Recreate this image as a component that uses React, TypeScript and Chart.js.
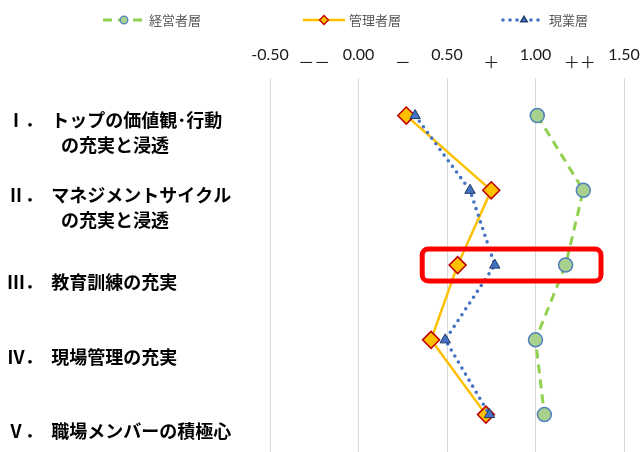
import React, { useEffect, useRef } from 'react';
import { Chart, registerables } from 'chart.js';

Chart.register(...registerables);

// ---- data ----
const categories: string[][] = [
  ['Ⅰ．  トップの価値観･行動', '　　　の充実と浸透'],
  ['Ⅱ．  マネジメントサイクル', '　　　の充実と浸透'],
  ['Ⅲ．  教育訓練の充実'],
  ['Ⅳ．  現場管理の充実'],
  ['Ⅴ．  職場メンバーの積極心'],
];
const seriesNames = ['経営者層', '管理者層', '現業層'];
const executives = [1.01, 1.27, 1.17, 1.0, 1.05];
const managers = [0.27, 0.75, 0.56, 0.41, 0.72];
const workers = [0.32, 0.63, 0.77, 0.49, 0.74];
const xMin = -0.5;
const xMax = 1.5;
const xStep = 0.5;
const symbolTicks = [-0.25, 0.25, 0.75, 1.25];
const symbolLabels = ['－－', '－', '＋', '＋＋'];
const highlightCategory = 2;
const highlightRange = [0.36, 1.37];

const CJK = '"Noto Sans CJK JP", "Noto Sans", sans-serif';

function drawMarker(
  ctx: CanvasRenderingContext2D,
  style: string,
  x: number,
  y: number,
  r: number,
  fill: string,
  stroke: string,
  lw: number
) {
  ctx.save();
  ctx.setLineDash([]);
  ctx.beginPath();
  if (style === 'circle') {
    ctx.arc(x, y, r, 0, Math.PI * 2);
  } else if (style === 'rectRot') {
    ctx.moveTo(x - r, y);
    ctx.lineTo(x, y - r);
    ctx.lineTo(x + r, y);
    ctx.lineTo(x, y + r);
    ctx.closePath();
  } else {
    const h = r * 1.5;
    ctx.moveTo(x, y - r);
    ctx.lineTo(x + r * 0.9, y + h - r);
    ctx.lineTo(x - r * 0.9, y + h - r);
    ctx.closePath();
  }
  ctx.fillStyle = fill;
  ctx.fill();
  ctx.lineWidth = lw;
  ctx.strokeStyle = stroke;
  ctx.stroke();
  ctx.restore();
}

const customLegend = {
  id: 'customLegend',
  afterDraw(chart: any) {
    const ctx: CanvasRenderingContext2D = chart.ctx;
    const y = 20;
    const startX = 103;
    const step = 200;
    const lineLen = 42;
    chart.data.datasets.forEach((ds: any, i: number) => {
      const x0 = startX + i * step;
      ctx.save();
      ctx.beginPath();
      ctx.strokeStyle = ds.borderColor;
      ctx.lineWidth = ds.borderWidth;
      ctx.lineCap = ds.borderCapStyle || 'butt';
      ctx.setLineDash(ds.borderDash || []);
      ctx.moveTo(x0, y);
      ctx.lineTo(x0 + lineLen, y);
      ctx.stroke();
      ctx.restore();
      drawMarker(
        ctx,
        ds.pointStyle,
        x0 + lineLen / 2,
        y,
        ds.pointStyle === 'rectRot' ? 4.5 : 3.8,
        ds.pointBackgroundColor,
        ds.pointBorderColor,
        1.3
      );
      ctx.save();
      ctx.font = `13px ${CJK}`;
      ctx.fillStyle = '#595959';
      ctx.textAlign = 'left';
      ctx.textBaseline = 'middle';
      ctx.fillText(ds.label, x0 + lineLen + 4, y);
      ctx.restore();
    });
  },
};

const symbolAxis = {
  id: 'symbolAxis',
  afterDraw(chart: any) {
    const ctx: CanvasRenderingContext2D = chart.ctx;
    const xs = chart.scales.x;
    ctx.save();
    ctx.font = `16px ${CJK}`;
    ctx.fillStyle = '#222';
    ctx.textAlign = 'center';
    ctx.textBaseline = 'middle';
    symbolTicks.forEach((v, i) => {
      ctx.fillText(symbolLabels[i], xs.getPixelForValue(v), chart.chartArea.top - 16);
    });
    ctx.restore();
  },
};

const highlightBox = {
  id: 'highlightBox',
  afterDatasetsDraw(chart: any) {
    const ctx: CanvasRenderingContext2D = chart.ctx;
    const xs = chart.scales.x;
    const ys = chart.scales.y;
    const cy = ys.getPixelForValue(highlightCategory);
    const half = 16;
    const x1 = xs.getPixelForValue(highlightRange[0]);
    const x2 = xs.getPixelForValue(highlightRange[1]);
    ctx.save();
    ctx.beginPath();
    (ctx as any).roundRect(x1, cy - half, x2 - x1, half * 2, 6);
    ctx.lineWidth = 5;
    ctx.strokeStyle = '#FF0000';
    ctx.setLineDash([]);
    ctx.stroke();
    ctx.restore();
  },
};

export default function App() {
  const ref = useRef<HTMLCanvasElement | null>(null);

  useEffect(() => {
    document.body.style.margin = '0';
    if (!ref.current) return;
    const chart = new Chart(ref.current, {
      type: 'line',
      data: {
        labels: categories as any,
        datasets: [
          {
            label: seriesNames[0],
            data: executives,
            borderColor: '#92D050',
            borderWidth: 3,
            borderDash: [9, 6],
            pointStyle: 'circle',
            pointRadius: 7,
            pointBackgroundColor: '#A9D18E',
            pointBorderColor: '#4F81BD',
            pointBorderWidth: 1.5,
            order: 2,
          } as any,
          {
            label: seriesNames[1],
            data: managers,
            borderColor: '#FFC000',
            borderWidth: 2.5,
            pointStyle: 'rectRot',
            pointRadius: 8.5,
            pointBackgroundColor: '#FFC000',
            pointBorderColor: '#C00000',
            pointBorderWidth: 1.5,
            order: 1,
          },
          {
            label: seriesNames[2],
            data: workers,
            borderColor: '#4472C4',
            borderWidth: 3.6,
            borderDash: [0, 7],
            borderCapStyle: 'round',
            pointStyle: 'triangle',
            pointRadius: 6,
            pointBackgroundColor: '#4472C4',
            pointBorderColor: '#203864',
            pointBorderWidth: 1,
            order: 0,
          } as any,
        ],
      },
      options: {
        indexAxis: 'y',
        responsive: false,
        animation: false,
        devicePixelRatio: 1,
        layout: { autoPadding: false, padding: { top: 31, right: 16, bottom: 0, left: 7 } },
        plugins: {
          legend: { display: false },
          tooltip: { enabled: false },
        },
        scales: {
          x: {
            type: 'linear',
            position: 'top',
            min: xMin,
            max: xMax,
            afterFit: (s: any) => {
              s.paddingLeft = 0;
              s.paddingRight = 0;
            },
            ticks: {
              stepSize: xStep,
              padding: 14,
              color: '#1a1a1a',
              font: { family: 'Lato, "Open Sans", sans-serif', size: 16 },
              callback: (v: any) => Number(v).toFixed(2),
            },
            grid: { color: '#D9D9D9', lineWidth: 1, drawTicks: false },
            border: { display: false },
          },
          y: {
            type: 'category',
            offset: true,
            afterFit: (s: any) => {
              s.width = 263;
              s.paddingTop = 0;
              s.paddingBottom = 0;
            },
            ticks: {
              crossAlign: 'far',
              labelOffset: 17,
              padding: 0,
              color: '#000',
              font: { family: CJK, size: 18, weight: 'bold', lineHeight: 1.4 },
            },
            grid: { display: false },
            border: { display: false },
          },
        },
      },
      plugins: [customLegend, symbolAxis, highlightBox],
    });
    return () => chart.destroy();
  }, []);

  return (
    <canvas ref={ref} width={640} height={452} style={{ display: 'block' }} />
  );
}
